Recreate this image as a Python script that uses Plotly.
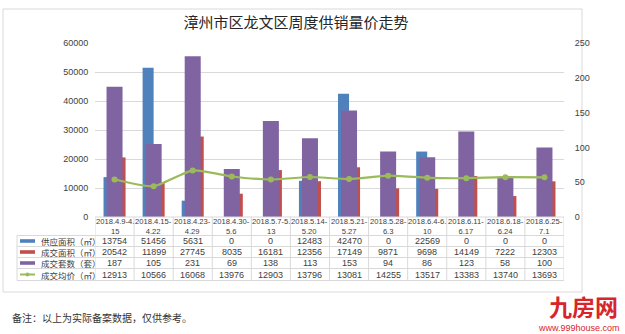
import plotly.graph_objects as go

categories = ["2018.4.9-4.15", "2018.4.15-4.22", "2018.4.23-4.29", "2018.4.30-5.6",
              "2018.5.7-5.13", "2018.5.14-5.20", "2018.5.21-5.27", "2018.5.28-6.3",
              "2018.6.4-6.10", "2018.6.11-6.17", "2018.6.18-6.24", "2018.6.25-7.1"]
tick_labels = ["2018.4.9-4.<br>15", "2018.4.15-<br>4.22", "2018.4.23-<br>4.29", "2018.4.30-<br>5.6",
               "2018.5.7-5.<br>13", "2018.5.14-<br>5.20", "2018.5.21-<br>5.27", "2018.5.28-<br>6.3",
               "2018.6.4-6.<br>10", "2018.6.11-<br>6.17", "2018.6.18-<br>6.24", "2018.6.25-<br>7.1"]
supply_area = [13754, 51456, 5631, 0, 0, 12483, 42470, 0, 22569, 0, 0, 0]
deal_area = [20542, 11899, 27745, 8035, 16181, 12356, 17149, 9871, 9698, 14149, 7222, 12303]
deal_units = [187, 105, 231, 69, 138, 113, 153, 94, 86, 123, 58, 100]
avg_price = [12913, 10566, 16068, 13976, 12903, 13796, 13081, 14255, 13517, 13383, 13740, 13693]
series_names = ["供应面积（㎡）", "成交面积（㎡）", "成交套数（套）", "成交均价（㎡）"]
colors = ["#4F81BD", "#C0504D", "#8064A2", "#9BBB59"]

W, H = 625, 334
L, R, T, B = 95, 564, 43, 217  # plot area in pixels


def px(xp):
    return (xp - L) / (R - L)


def py(yp):
    return (B - yp) / (B - T)


CJK = "Noto Sans CJK SC"
NUM = "Liberation Sans, Arial, sans-serif"
GRID = "#d9d9d9"
TXT = "#404040"

fig = go.Figure()
fig.add_trace(go.Bar(x=categories, y=supply_area, name=series_names[0], marker_color=colors[0],
                     marker_line_width=0, yaxis="y"))
fig.add_trace(go.Bar(x=categories, y=deal_area, name=series_names[1], marker_color=colors[1],
                     marker_line_width=0, yaxis="y"))
fig.add_trace(go.Bar(x=categories, y=deal_units, name=series_names[2], marker_color=colors[2],
                     marker_line_width=0, yaxis="y2", width=0.41, offset=-0.205))
fig.add_trace(go.Scatter(x=categories, y=avg_price, name=series_names[3], mode="lines+markers",
                         line=dict(color=colors[3], width=2.2, shape="spline", smoothing=0.5),
                         marker=dict(size=6, color=colors[3]), yaxis="y3"))

fig.update_layout(
    width=W, height=H,
    margin=dict(l=L, r=W - R, t=T, b=H - B, pad=0),
    paper_bgcolor="white", plot_bgcolor="white",
    showlegend=False,
    barmode="group", bargap=0.436, bargroupgap=0,
    xaxis=dict(type="category", showticklabels=False, showgrid=False, zeroline=False,
               showline=False, ticks="", range=[-0.5, 11.5]),
    yaxis=dict(range=[0, 60000], dtick=10000, tickformat="d", showgrid=True, gridcolor=GRID, gridwidth=1,
               zeroline=False, showline=False, ticks="outside", ticklen=4, tickcolor="rgba(0,0,0,0)",
               tickfont=dict(family=NUM, size=9, color=TXT)),
    yaxis2=dict(range=[0, 250], dtick=50, overlaying="y", side="right", showgrid=False,
                zeroline=False, showline=False, ticks="outside", ticklen=8, tickcolor="rgba(0,0,0,0)",
                tickfont=dict(family=NUM, size=9, color=TXT)),
    yaxis3=dict(range=[0, 60000], overlaying="y", visible=False),
    title=dict(text="漳州市区龙文区周度供销量价走势", font=dict(family=CJK, size=15, color="#262626"),
               xref="container", yref="container", x=296 / W, y=1 - 23 / H,
               xanchor="center", yanchor="middle"),
)

shapes = []
ann = []
# outer chart frame
shapes.append(dict(type="rect", xref="paper", yref="paper", x0=px(3), x1=px(582), y0=py(292), y1=py(9),
                   line=dict(color=GRID, width=1), layer="below"))
# table lines
row_lines = [217, 235.5, 246.5, 257.5, 268.5, 280.5]
for i, yl in enumerate(row_lines):
    x0 = px(17) if i >= 1 else 0
    shapes.append(dict(type="line", xref="paper", yref="paper", x0=x0, x1=1, y0=py(yl), y1=py(yl),
                       line=dict(color=GRID, width=1)))
shapes.append(dict(type="line", xref="paper", yref="paper", x0=px(17), x1=px(17),
                   y0=py(235.5), y1=py(280.5), line=dict(color=GRID, width=1)))
for k in range(len(categories) + 1):
    shapes.append(dict(type="line", xref="x", yref="paper", x0=k - 0.5, x1=k - 0.5,
                       y0=py(217), y1=py(280.5), line=dict(color=GRID, width=1)))

# category labels
for c, lab in zip(categories, tick_labels):
    ann.append(dict(x=c, xref="x", y=py(226.5), yref="paper", text=lab, showarrow=False,
                    font=dict(family=NUM, size=7.6, color=TXT), xanchor="center", yanchor="middle"))

rows = [supply_area, deal_area, deal_units, avg_price]
row_y = [241, 252, 263, 274.5]
for r, (vals, yc) in enumerate(zip(rows, row_y)):
    for c, v in zip(categories, vals):
        ann.append(dict(x=c, xref="x", y=py(yc), yref="paper", text=str(v), showarrow=False,
                        font=dict(family=NUM, size=9, color=TXT), xanchor="center", yanchor="middle"))
    ann.append(dict(x=px(39), xref="paper", y=py(yc), yref="paper", text=series_names[r], showarrow=False,
                    font=dict(family=CJK, size=8.5, color=TXT), xanchor="left", yanchor="middle"))
    if r < 3:
        shapes.append(dict(type="rect", xref="paper", yref="paper", x0=px(20), x1=px(35),
                           y0=py(yc + 1.8), y1=py(yc - 1.8), fillcolor=colors[r], line=dict(width=0)))
    else:
        shapes.append(dict(type="line", xref="paper", yref="paper", x0=px(20), x1=px(35),
                           y0=py(yc), y1=py(yc), line=dict(color=colors[r], width=2)))
        shapes.append(dict(type="circle", xref="paper", yref="paper", x0=px(25.5), x1=px(29.5),
                           y0=py(yc + 2), y1=py(yc - 2), fillcolor=colors[r], line=dict(width=0)))

# footnote
ann.append(dict(x=px(10), xref="paper", y=py(317), yref="paper", text="备注：以上为实际备案数据，仅供参考。",
                showarrow=False, font=dict(family=CJK, size=10, color="#333333"),
                xanchor="left", yanchor="middle"))
# watermark
ann.append(dict(x=px(620), xref="paper", y=py(306), yref="paper", text="<b>九房网</b>", showarrow=False,
                font=dict(family=CJK, size=23, color="#d7252c"), xanchor="right", yanchor="middle"))
ann.append(dict(x=px(622), xref="paper", y=py(327.5), yref="paper", text="www.999house.com", showarrow=False,
                font=dict(family=NUM, size=9, color="#d7252c"), xanchor="right", yanchor="middle"))

fig.update_layout(shapes=shapes, annotations=ann)
fig.write_html("out.html")
